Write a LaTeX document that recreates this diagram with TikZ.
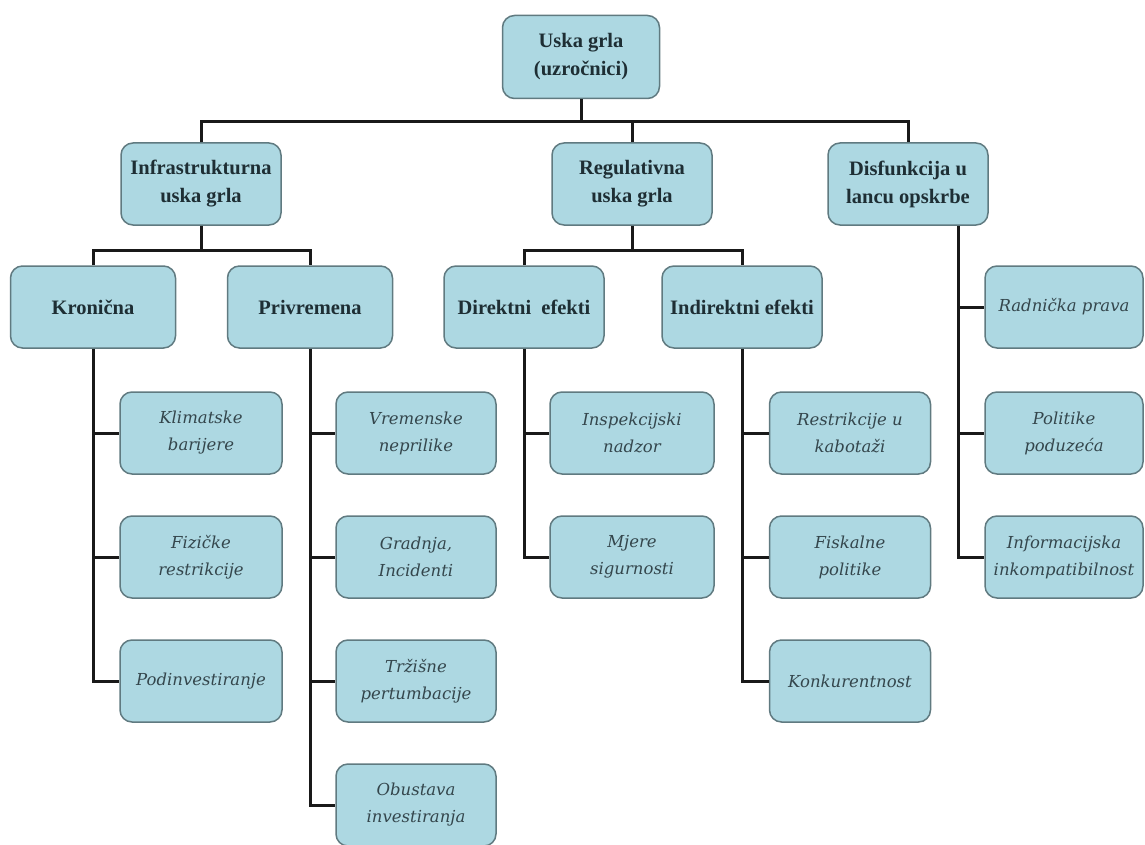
\documentclass[tikz,border=0pt]{standalone}
\usepackage{fontspec}
\setmainfont{Liberation Serif}
\newfontfamily\leaffont{DejaVu Serif}
\definecolor{boxfill}{RGB}{173,216,226}
\definecolor{boxline}{RGB}{96,122,128}
\definecolor{txtdark}{RGB}{30,46,52}
\definecolor{txtleaf}{RGB}{52,70,76}
\tikzset{
  basebox/.style={draw=boxline, fill=boxfill, line width=1.5pt, rounded corners=12pt,
    minimum width=160pt, minimum height=82pt, align=center, inner sep=1pt},
  headbox/.style={basebox, text=txtdark, font=\fontsize{20.5}{28}\selectfont\bfseries},
  leafbox/.style={basebox, text=txtleaf, font=\leaffont\itshape\fontsize{16.5}{27}\selectfont},
  conn/.style={line width=3pt, draw=black!90}
}
\begin{document}
\begin{tikzpicture}[x=1pt,y=-1pt]
\useasboundingbox (0,0) rectangle (1145,845);
% level 1
\node[headbox, minimum width=157pt, minimum height=83pt] (root) at (581,57) {Uska grla\\(uzročnici)};
% level 2
\node[headbox] (inf) at (201,184) {Infrastrukturna\\uska grla};
\node[headbox] (reg) at (632,184) {Regulativna\\uska grla};
\node[headbox] (dis) at (908,184) {Disfunkcija u\\lancu opskrbe};
% level 3
\node[headbox, minimum width=165pt] (kro) at (93,307) {Kronična};
\node[headbox, minimum width=165pt] (pri) at (310,307) {Privremena};
\node[headbox] (dir) at (524,307) {Direktni\ \ efekti};
\node[headbox] (ind) at (742,307) {Indirektni efekti};
% leaves: Kronična
\node[leafbox, minimum width=162pt] (kli) at (201,433) {Klimatske\\barijere};
\node[leafbox, minimum width=162pt] (fiz) at (201,557) {Fizičke\\restrikcije};
\node[leafbox, minimum width=162pt] (pod) at (201,681) {Podinvestiranje};
% leaves: Privremena
\node[leafbox] (vre) at (416,433) {Vremenske\\neprilike};
\node[leafbox] (gra) at (416,557) {Gradnja,\\Incidenti};
\node[leafbox] (trz) at (416,681) {Tržišne\\pertumbacije};
\node[leafbox] (obu) at (416,805) {Obustava\\investiranja};
% leaves: Direktni
\node[leafbox, minimum width=164pt] (ins) at (632,433) {Inspekcijski\\nadzor};
\node[leafbox, minimum width=164pt] (mje) at (632,557) {Mjere\\sigurnosti};
% leaves: Indirektni
\node[leafbox, minimum width=161pt] (res) at (850,433) {Restrikcije u\\kabotaži};
\node[leafbox, minimum width=161pt] (fis) at (850,557) {Fiskalne\\politike};
\node[leafbox, minimum width=161pt] (kon) at (850,681) {Konkurentnost};
% leaves: Disfunkcija
\node[leafbox, minimum width=158pt] (rad) at (1064,307) {Radnička prava};
\node[leafbox, minimum width=158pt] (pol) at (1064,433) {Politike\\poduzeća};
\node[leafbox, minimum width=158pt] (inc) at (1064,557) {Informacijska\\inkompatibilnost};
% bars
\coordinate (bar1) at (0,122);
\coordinate (bar2) at (0,250);
\coordinate (dtr) at ([xshift=-30pt]dis.south east);
% connectors level 1-2
\draw[conn] (root.south) -- (root.south |- bar1);
\draw[conn] (inf.north) -- (inf.north |- bar1) -- (dis.north |- bar1) -- (dis.north);
\draw[conn] (reg.north) -- (reg.north |- bar1);
% connectors level 2-3
\draw[conn] (inf.south) -- (inf.south |- bar2);
\draw[conn] (kro.north) -- (kro.north |- bar2) -- (pri.north |- bar2) -- (pri.north);
\draw[conn] (reg.south) -- (reg.south |- bar2);
\draw[conn] (dir.north) -- (dir.north |- bar2) -- (ind.north |- bar2) -- (ind.north);
% trunks
\draw[conn] (kro.south) -- (kro.south |- pod.west) -- (pod.west);
\draw[conn] (kro.south |- kli.west) -- (kli.west);
\draw[conn] (kro.south |- fiz.west) -- (fiz.west);
\draw[conn] (pri.south) -- (pri.south |- obu.west) -- (obu.west);
\draw[conn] (pri.south |- vre.west) -- (vre.west);
\draw[conn] (pri.south |- gra.west) -- (gra.west);
\draw[conn] (pri.south |- trz.west) -- (trz.west);
\draw[conn] (dir.south) -- (dir.south |- mje.west) -- (mje.west);
\draw[conn] (dir.south |- ins.west) -- (ins.west);
\draw[conn] (ind.south) -- (ind.south |- kon.west) -- (kon.west);
\draw[conn] (ind.south |- res.west) -- (res.west);
\draw[conn] (ind.south |- fis.west) -- (fis.west);
\draw[conn] (dtr) -- (dtr |- inc.west) -- (inc.west);
\draw[conn] (dtr |- rad.west) -- (rad.west);
\draw[conn] (dtr |- pol.west) -- (pol.west);
\end{tikzpicture}
\end{document}
